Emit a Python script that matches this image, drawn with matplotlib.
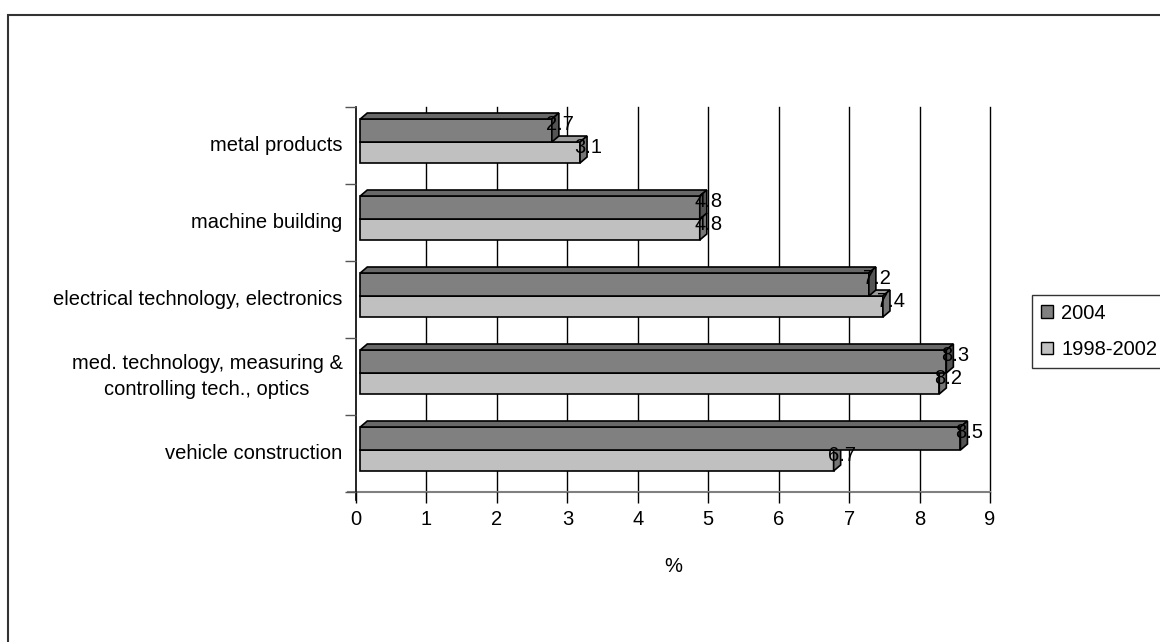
import matplotlib
matplotlib.use("Agg")
import matplotlib.pyplot as plt
from matplotlib.patches import Polygon, Patch, Rectangle

plt.rcParams['font.family'] = ['Liberation Sans', 'DejaVu Sans']

categories = ["metal products", "machine building", "electrical technology, electronics",
              "med. technology, measuring &\ncontrolling tech., optics", "vehicle construction"]
series_names = ["2004", "1998-2002"]
values_2004 = [2.7, 4.8, 7.2, 8.3, 8.5]
values_9802 = [3.1, 4.8, 7.4, 8.2, 6.7]
xticks = [0, 1, 2, 3, 4, 5, 6, 7, 8, 9]

FS = 14.5
W, H = 1160, 642
fig = plt.figure(figsize=(W / 100, H / 100), dpi=100)

# chart-area frame
fig.add_artist(Rectangle((8 / W, -0.02), 1.1, (642 - 15) / H + 0.02, transform=fig.transFigure,
                         fill=False, edgecolor='#333333', lw=1.5))

ax_l, ax_r, ax_t, ax_b = 356, 990, 107, 492
ax = fig.add_axes([ax_l / W, 1 - ax_b / H, (ax_r - ax_l) / W, (ax_b - ax_t) / H])
ax.set_xlim(0, 9)
ax.set_ylim(5.0, 0)
for s in ax.spines.values():
    s.set_visible(False)
ax.set_facecolor('none')

# gridlines
for t in xticks[1:]:
    ax.axvline(t, color='black', lw=1.0, zorder=0, clip_on=False)
# x axis line
ax.plot([-0.11, 9], [5.0, 5.0], color='#808080', lw=1.5, clip_on=False, zorder=1)
# y axis line
ax.plot([0, 0], [0, 5.1], color='black', lw=1.2, clip_on=False, zorder=1)
ax.set_xticks(xticks)
ax.set_xticklabels([str(t) for t in xticks], fontsize=FS)
ax.tick_params(axis='x', length=8, width=1, color='black', pad=5, direction='out')
ax.set_yticks(range(6))
ax.set_yticklabels([])
ax.tick_params(axis='y', length=8, width=1, color='#555555', direction='out')
ax.set_xlabel('%', fontsize=FS, labelpad=20)

for i, c in enumerate(categories):
    ax.text(-0.19, i + 0.5, c, ha='right', va='center', fontsize=FS,
            multialignment='center', linespacing=1.47)

dx = 0.1          # depth in x data units
dy = 0.078        # depth in category units
x0 = 0.06
ext = 0.08

colors = {
    "2004": ("#808080", "#686868", "#545454"),
    "1998-2002": ("#c0c0c0", "#9c9c9c", "#767676"),
}
bands = {"2004": (0.156, 0.455), "1998-2002": (0.455, 0.727)}


def draw_bar(yc, v, name, z):
    front, top, side = colors[name]
    b0, b1 = bands[name]
    yt, yb = yc + b0, yc + b1
    xe = v + ext
    faces = [
        ([(x0, yt), (xe, yt), (xe, yb), (x0, yb)], front),
        ([(x0, yt), (x0 + dx, yt - dy), (xe + dx, yt - dy), (xe, yt)], top),
        ([(xe, yt), (xe + dx, yt - dy), (xe + dx, yb - dy), (xe, yb)], side),
    ]
    for pts, col in faces:
        ax.add_patch(Polygon(pts, closed=True, facecolor=col, edgecolor='black',
                             lw=1.2, zorder=z, joinstyle='miter'))
    ax.text(xe + 0.12, yt + (yb - yt) * 0.25, f"{v:.1f}", ha='center', va='center',
            fontsize=FS, zorder=10)


for i in range(len(categories)):
    draw_bar(i, values_9802[i], "1998-2002", 3)
    draw_bar(i, values_2004[i], "2004", 4)

handles = [Patch(facecolor=colors[n][0], edgecolor='black', lw=1.0) for n in series_names]
leg = fig.legend(handles, series_names, loc='center left',
                 bbox_to_anchor=(1032 / W, 1 - 331.5 / H), fontsize=FS,
                 frameon=True, fancybox=False, edgecolor='black',
                 handlelength=0.6, handleheight=0.6, handletextpad=0.4,
                 labelspacing=0.85, borderpad=0.45, borderaxespad=0)
leg.get_frame().set_linewidth(1.0)

fig.savefig('out.png', dpi=100, facecolor='white')
